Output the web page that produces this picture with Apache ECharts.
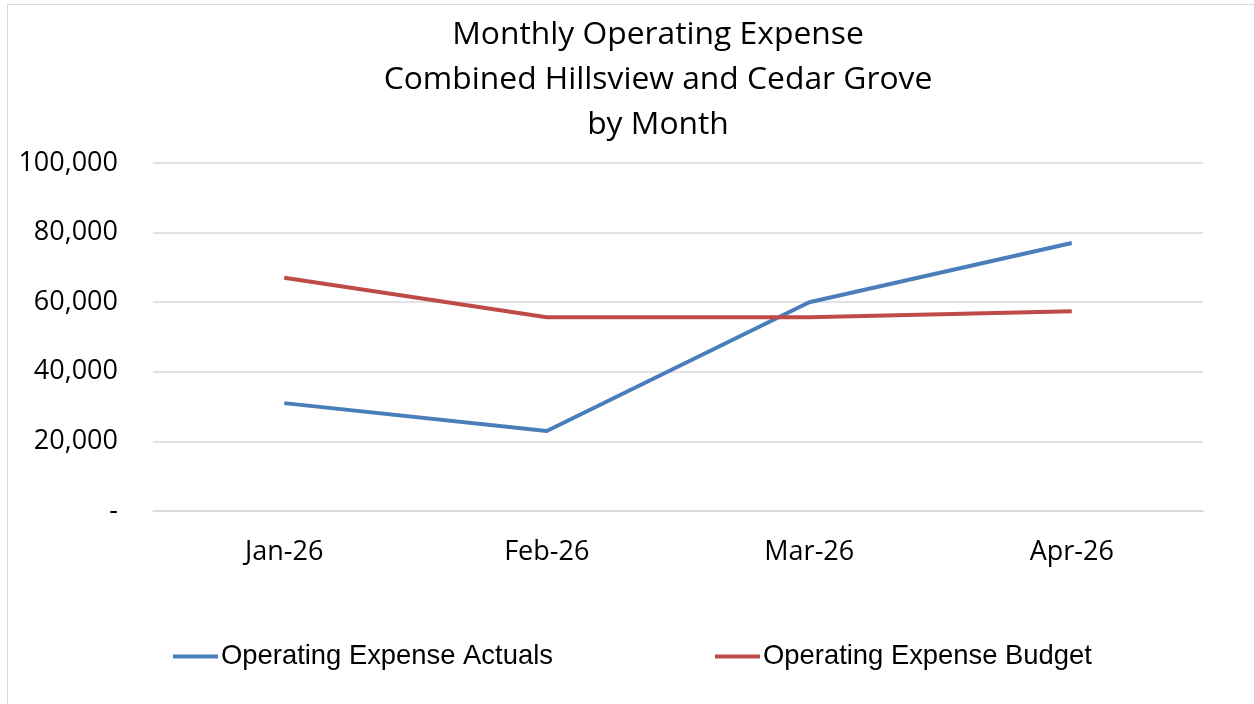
<!DOCTYPE html>
<html>
<head>
<meta charset="utf-8">
<script src="https://cdn.jsdelivr.net/npm/echarts@6/dist/echarts.min.js"></script>
<style>
  html, body { margin: 0; padding: 0; background: #fff; }
  #chart { position: absolute; left: 7px; top: 4px; width: 1260px; height: 710px; border: 1px solid #d9d9d9; box-sizing: border-box; }
</style>
</head>
<body>
<div id="chart"></div>
<script>
// 数据
const months = ['Jan-26', 'Feb-26', 'Mar-26', 'Apr-26'];
const actuals = [31000, 23000, 60000, 77000];
const budget = [67000, 55700, 55700, 57400];
const yTicks = { min: 0, max: 100000, interval: 20000 };

const font = '"Open Sans", "Liberation Sans", sans-serif';
const narrow = '"Liberation Sans Narrow", "Liberation Sans", sans-serif';

const chart = echarts.init(document.getElementById('chart'));

// 图例样式（两个图例分开摆放）
const legendBase = {
  icon: 'rect', itemWidth: 45, itemHeight: 4, itemGap: 0,
  textStyle: { fontFamily: narrow, fontSize: 27.4, color: '#000', padding: [0, 0, 0, -2] }
};

const option = {
  animation: false,
  title: {
    text: 'Monthly Operating Expense\nCombined Hillsview and Cedar Grove\nby Month',
    left: 645,
    top: 2,
    textAlign: 'center',
    textStyle: { fontFamily: font, fontSize: 31.8, fontWeight: 'normal', color: '#000', lineHeight: 45 }
  },
  legend: [
    Object.assign({ data: ['Operating Expense Actuals'], left: 160, top: 633 }, legendBase),
    Object.assign({ data: ['Operating Expense Budget'], left: 702, top: 633 }, legendBase)
  ],
  grid: { left: 145, right: 63, top: 158, bottom: 202 },
  xAxis: {
    type: 'category',
    data: months,
    boundaryGap: true,
    axisLine: { lineStyle: { color: '#d9d9d9', width: 1.5 } },
    axisTick: { show: false },
    axisLabel: { fontFamily: font, fontSize: 27, color: '#000', margin: 28 }
  },
  yAxis: {
    type: 'value',
    min: yTicks.min, max: yTicks.max, interval: yTicks.interval,
    axisLine: { show: false },
    axisTick: { show: false },
    splitLine: { lineStyle: { color: '#d9d9d9', width: 1.5 } },
    axisLabel: {
      fontFamily: font, fontSize: 27, color: '#000', margin: 35,
      formatter: v => v === 0 ? '-' : v.toLocaleString('en-US')
    }
  },
  series: [
    {
      name: 'Operating Expense Actuals',
      type: 'line',
      data: actuals,
      symbol: 'none',
      lineStyle: { color: '#4a7ebb', width: 4 },
      itemStyle: { color: '#4a7ebb' }
    },
    {
      name: 'Operating Expense Budget',
      type: 'line',
      data: budget,
      symbol: 'none',
      lineStyle: { color: '#be4b48', width: 4 },
      itemStyle: { color: '#be4b48' }
    }
  ]
};

chart.setOption(option);
</script>
</body>
</html>
